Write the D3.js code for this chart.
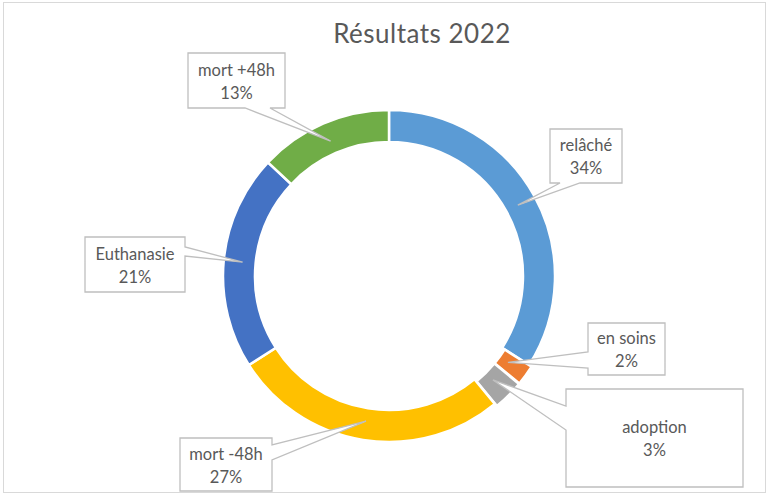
<!DOCTYPE html>
<html>
<head>
<meta charset="utf-8">
<script src="https://cdn.jsdelivr.net/npm/d3@7"></script>
<style>
  body { margin: 0; background: #fff; }
  svg { display: block; font-family: Lato, "Open Sans", sans-serif; }
</style>
</head>
<body>
<svg width="770" height="495"></svg>
<script>
// data
const categories = ["relâché", "en soins", "adoption", "mort -48h", "Euthanasie", "mort +48h"];
const values = [34, 2, 3, 27, 21, 13];
const colors = ["#5B9BD5", "#ED7D31", "#A5A5A5", "#FFC000", "#4472C4", "#70AD47"];
const exploded = ["en soins", "adoption"];
const title = "Résultats 2022";

// callout boxes: [x0, y0, x1, y1], side of the pointer, pointer base along that side
const callouts = {
  "relâché":    { box: [550, 129, 622, 183], side: "bottom", a: 560, b: 580 },
  "en soins":   { box: [588, 323, 665, 375], side: "left",   a: 352, b: 368 },
  "adoption":   { box: [566, 389, 743, 487], side: "left",   a: 406, b: 430 },
  "mort -48h":  { box: [180, 438, 272, 491], side: "right",  a: 445, b: 460 },
  "Euthanasie": { box: [85, 237, 185, 292],  side: "right",  a: 247, b: 256 },
  "mort +48h":  { box: [188, 53, 285, 108],  side: "bottom", a: 245, b: 270 }
};

const svg = d3.select("svg");
const cx = 389, cy = 276, rOuter = 166, rInner = 134;

svg.append("rect")
  .attr("x", 3.5).attr("y", 2.5)
  .attr("width", 762).attr("height", 490)
  .attr("fill", "#fff")
  .attr("stroke", "#d9d9d9");

svg.append("text")
  .attr("x", 422).attr("y", 43)
  .attr("text-anchor", "middle")
  .attr("font-size", 26)
  .attr("letter-spacing", 0.5)
  .attr("fill", "#595959")
  .text(title);

const data = categories.map((c, i) => ({ name: c, value: values[i], color: colors[i] }));

const pie = d3.pie().value(d => d.value).sort(null);
const arcs = pie(data);

const arc = d3.arc().innerRadius(rInner).outerRadius(rOuter);
const tipArc = d3.arc().innerRadius(147).outerRadius(147);

const g = svg.append("g").attr("transform", `translate(${cx},${cy})`);

g.selectAll("path.slice")
  .data(arcs)
  .join("path")
  .attr("class", "slice")
  .attr("d", arc)
  .attr("fill", d => d.data.color)
  .attr("stroke", "#fff")
  .attr("stroke-width", 2.5)
  .attr("transform", d => {
    if (!exploded.includes(d.data.name)) return null;
    const m = (d.startAngle + d.endAngle) / 2;
    return `translate(${3 * Math.sin(m)},${-3 * Math.cos(m)})`;
  });

function calloutPath(c, tip) {
  const [x0, y0, x1, y1] = c.box;
  const p = d3.path();
  p.moveTo(x0, y0);
  p.lineTo(x1, y0);
  if (c.side === "right") {
    p.lineTo(x1, c.a); p.lineTo(tip[0], tip[1]); p.lineTo(x1, c.b);
  }
  p.lineTo(x1, y1);
  if (c.side === "bottom") {
    p.lineTo(c.b, y1); p.lineTo(tip[0], tip[1]); p.lineTo(c.a, y1);
  }
  p.lineTo(x0, y1);
  if (c.side === "left") {
    p.lineTo(x0, c.b); p.lineTo(tip[0], tip[1]); p.lineTo(x0, c.a);
  }
  p.closePath();
  return p.toString();
}

const labels = svg.append("g");
arcs.forEach(d => {
  const c = callouts[d.data.name];
  const t = tipArc.centroid(d);
  const tip = [cx + t[0], cy + t[1]];
  labels.append("path")
    .attr("d", calloutPath(c, tip))
    .attr("fill", "#fff")
    .attr("stroke", "#bfbfbf")
    .attr("stroke-width", 1.3)
    .attr("stroke-linejoin", "miter");
  const [x0, y0, x1, y1] = c.box;
  const mx = (x0 + x1) / 2, my = (y0 + y1) / 2;
  const txt = labels.append("text")
    .attr("text-anchor", "middle")
    .attr("font-size", 16.5)
    .attr("fill", "#595959");
  txt.append("tspan").attr("x", mx).attr("y", my - 5).text(d.data.name);
  txt.append("tspan").attr("x", mx).attr("y", my + 18).text(d3.format(".0%")(d.value / 100));
});
</script>
</body>
</html>
